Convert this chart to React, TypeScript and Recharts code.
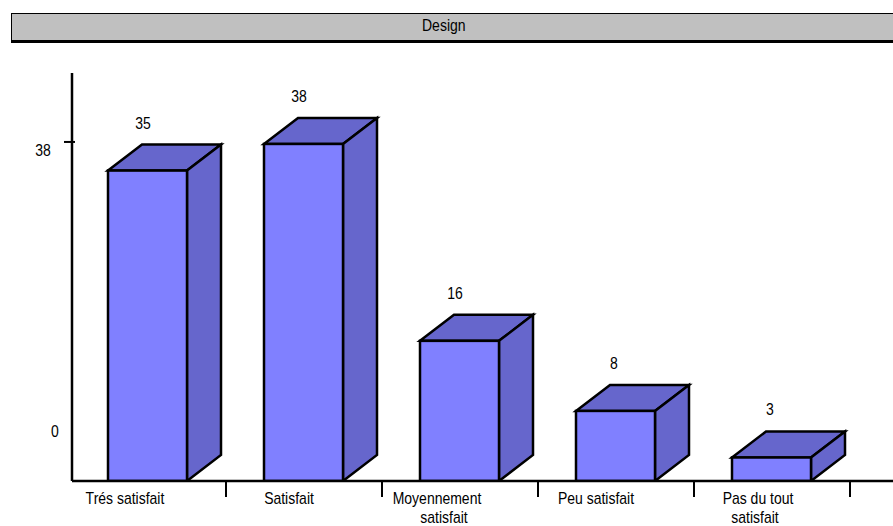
import React from "react";
import { BarChart, Bar, XAxis, YAxis, LabelList } from "recharts";

const title = "Design";
const categories = ["Trés satisfait", "Satisfait", "Moyennement\nsatisfait", "Peu satisfait", "Pas du tout\nsatisfait"];
const values = [35, 38, 15.8, 7.9, 2.65];
const yTicks = [0, 38];
const data = categories.map((name, i) => ({ name, value: values[i] }));

const FONT = "'Liberation Sans', Arial, sans-serif";
const FRONT = "#8080ff";
const SHADE = "#6666cc";
const DX = 34;
const DY = 26;
const BAND = 156;
const STROKE = 2.5;
const labelDx = [[-23], [-15], [-23, -16], [-20], [-14, -17]];

function Txt({ x, y, children }: any) {
  return (
    <text transform={`translate(${x},${y}) scale(0.875,1)`} textAnchor="middle" fontFamily={FONT} fontSize={16} fill="#000">
      {children}
    </text>
  );
}

function Box3D(props: any) {
  const { y, width, height } = props;
  const x = props.x - 1;
  const r = x + width;
  const b = y + height;
  return (
    <g stroke="#000" strokeWidth={STROKE} strokeLinejoin="miter">
      <path d={`M${x},${y}L${x + DX},${y - DY}L${r + DX},${y - DY}L${r},${y}Z`} fill={SHADE} />
      <path d={`M${r},${y}L${r + DX},${y - DY}L${r + DX},${b - DY}L${r},${b}Z`} fill={SHADE} />
      <rect x={x} y={y} width={width} height={height} fill={FRONT} />
    </g>
  );
}

function XTick(props: any) {
  const { x, y, payload, index } = props;
  const lines = String(payload.value).split("\n");
  return (
    <g>
      <line x1={x + BAND / 2} x2={x + BAND / 2} y1={y - 8} y2={y + 8} stroke="#000" strokeWidth={2} />
      {lines.map((t: string, i: number) => (
        <Txt key={i} x={x + labelDx[index][i]} y={y + 15 + i * 19}>
          {t}
        </Txt>
      ))}
    </g>
  );
}

function YTick(props: any) {
  const { x, y, payload } = props;
  const isTop = payload.value !== 0;
  return (
    <g>
      {isTop && <line x1={x} x2={x + 11} y1={y - 2} y2={y - 2} stroke="#000" strokeWidth={2} />}
      <Txt x={isTop ? 43 : 55} y={isTop ? y + 12 : y - 44}>
        {payload.value}
      </Txt>
    </g>
  );
}

function ValueLabel(props: any) {
  const { x, y, value } = props;
  const v = Math.round(value);
  return (
    <Txt x={x + (v < 10 ? 37 : 34)} y={y - 42}>
      {v}
    </Txt>
  );
}

export default function App() {
  return (
    <div style={{ position: "absolute", left: 0, top: 0, width: 893, height: 526, background: "#fff", overflow: "hidden" }}>
      <div
        style={{
          position: "absolute",
          left: 11,
          top: 13,
          width: 900,
          height: 26,
          boxSizing: "content-box",
          background: "#c0c0c0",
          borderTop: "1px solid #000",
          borderLeft: "1px solid #000",
          borderBottom: "3px solid #000",
          fontFamily: FONT,
          fontSize: 16,
          lineHeight: "23px",
          color: "#000",
        }}
      >
        <span style={{ position: "absolute", left: 410, top: 0, display: "inline-block", transform: "scaleX(0.875)", transformOrigin: "left" }}>{title}</span>
      </div>
      <BarChart width={893} height={526} data={data} margin={{ top: 73, right: 0, bottom: 0, left: 0 }} barCategoryGap={0}>
        <XAxis
          dataKey="name"
          height={45}
          interval={0}
          padding={{ left: -2, right: 43 }}
          axisLine={{ stroke: "#000", strokeWidth: 2.5 }}
          tickLine={false}
          tick={<XTick />}
        />
        <YAxis
          width={72}
          domain={[0, 46]}
          ticks={yTicks}
          allowDataOverflow
          axisLine={{ stroke: "#000", strokeWidth: 2.5 }}
          tickLine={false}
          tick={<YTick />}
        />
        <Bar dataKey="value" barSize={79} shape={<Box3D />} isAnimationActive={false}>
          <LabelList dataKey="value" content={<ValueLabel />} />
        </Bar>
      </BarChart>
    </div>
  );
}
